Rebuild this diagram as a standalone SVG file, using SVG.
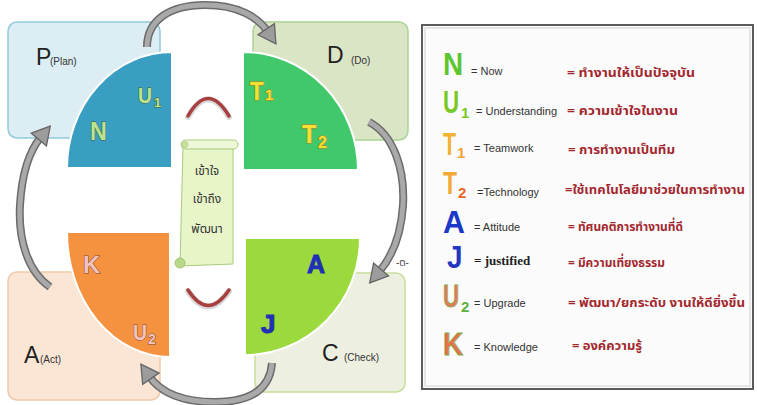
<svg xmlns="http://www.w3.org/2000/svg" width="757" height="405" viewBox="0 0 757 405">
  <style>
    .box-title { font-family: "Liberation Sans", Arial, sans-serif; font-size: 23px; fill: #222; }
    .box-sub { font-family: "Liberation Sans", Arial, sans-serif; font-size: 10px; fill: #333; }
    .q-letter { font-family: "Liberation Sans", Arial, sans-serif; font-weight: bold; stroke-width: 1; paint-order: stroke; }
    .scroll-txt { font-family: "Noto Sans Thai", "Noto Sans", "DejaVu Sans", sans-serif; font-size: 12px; fill: #333; text-anchor: middle; }
    .lg-big { font-family: "Liberation Sans", Arial, sans-serif; font-weight: bold; font-size: 31px; }
    .lg-sub { font-family: "Liberation Sans", Arial, sans-serif; font-weight: bold; font-size: 15px; }
    .lg-en { font-family: "Liberation Sans", Arial, sans-serif; font-size: 11px; fill: #333; }
    .lg-th { font-family: "Noto Sans Thai", "Noto Sans", "DejaVu Sans", sans-serif; font-size: 13px; font-weight: bold; fill: #a3282e; }
    .arr-under { fill: none; stroke: #6b6b6b; stroke-width: 8; stroke-linecap: butt; }
    .arr-top { fill: none; stroke: #a9a9a9; stroke-width: 5; stroke-linecap: butt; }
    .smile { fill: none; stroke: #a8403f; stroke-width: 3.5; stroke-linecap: round; }
    .smile-sh { fill: none; stroke: #d8d8d8; stroke-width: 6; stroke-linecap: round; }
  </style>
  <defs>
    <marker id="ah" markerUnits="userSpaceOnUse" markerWidth="22" markerHeight="22" viewBox="0 0 18 20" refX="3" refY="10" orient="auto">
      <path d="M0,1 L16,10 L0,19 Z" fill="#9c9c9c" stroke="#666" stroke-width="1.2"/>
    </marker>
  </defs>

  <rect width="757" height="405" fill="#ffffff"/>

  <!-- PDCA boxes -->
  <g id="plan">
    <rect x="8" y="22" width="152" height="116" rx="9" fill="#dcedf4" stroke="#93c8d9" stroke-width="1.5"/>
    <text class="box-title" x="36" y="65">P</text>
    <text class="box-sub" x="50" y="65">(Plan)</text>
  </g>
  <g id="do">
    <rect x="253" y="22" width="155" height="118" rx="9" fill="#dae5c6" stroke="#a9d494" stroke-width="1.5"/>
    <text class="box-title" x="327" y="63">D</text>
    <text class="box-sub" x="351" y="64">(Do)</text>
  </g>
  <g id="act">
    <rect x="8" y="272" width="152" height="128" rx="9" fill="#fbe6d5" stroke="#efcaa9" stroke-width="1.5"/>
    <text class="box-title" x="24" y="363">A</text>
    <text class="box-sub" x="40" y="363">(Act)</text>
  </g>
  <g id="check">
    <rect x="255" y="273" width="150" height="119" rx="9" fill="#edf0e1" stroke="#c7de9c" stroke-width="1.5"/>
    <text class="box-title" x="322" y="361">C</text>
    <text class="box-sub" x="344" y="361">(Check)</text>
  </g>

  <!-- connectors: curved cycle arrows -->
  <g id="connectors">
    <path class="arr-under" d="M147,47 C147,20 170,5 205,5 C238,5 258,17 268,32"/>
    <path class="arr-top" d="M147,47 C147,20 170,5 205,5 C238,5 258,17 268,32" marker-end="url(#ah)"/>
    <path class="arr-under" d="M369,122 C394,135 405,170 403,205 C401,238 391,258 379,272"/>
    <path class="arr-top" d="M369,122 C394,135 405,170 403,205 C401,238 391,258 379,272" marker-end="url(#ah)"/>
    <path class="arr-under" d="M272,363 C270,390 250,402 215,402 C182,402 160,392 149,376"/>
    <path class="arr-top" d="M272,363 C270,390 250,402 215,402 C182,402 160,392 149,376" marker-end="url(#ah)"/>
    <path class="arr-under" d="M50,287 C28,272 18,240 20,205 C22,172 30,150 41,137"/>
    <path class="arr-top" d="M50,287 C28,272 18,240 20,205 C22,172 30,150 41,137" marker-end="url(#ah)"/>
  </g>

  <!-- quarter segments -->
  <g id="q-nu">
    <path d="M172,52 A105,116 0 0 0 67,168 L172,168 Z" fill="#3a9ec3" stroke="#ffffff" stroke-width="2"/>
    <text class="q-letter" transform="translate(138,103) scale(0.88,1)" font-size="22" fill="#b9e58c" stroke="#4d5a2c">U</text>
    <text class="q-letter" x="154" y="107" font-size="13" fill="#b9e58c" stroke="#4d5a2c">1</text>
    <text class="q-letter" transform="translate(90,140) scale(0.9,1)" font-size="26" fill="#b9e58c" stroke="#4d5a2c">N</text>
  </g>
  <g id="q-tt">
    <path d="M243,52 A115,118 0 0 1 358,170 L243,170 Z" fill="#40c86a" stroke="#ffffff" stroke-width="2"/>
    <text class="q-letter" transform="translate(250,100) scale(0.86,1)" font-size="26" fill="#f5e034" stroke="#c27a12">T</text>
    <text class="q-letter" x="265" y="100" font-size="15" fill="#f5e034" stroke="#c27a12">1</text>
    <text class="q-letter" transform="translate(302,143) scale(0.9,1)" font-size="26" fill="#f5e034" stroke="#c27a12">T</text>
    <text class="q-letter" x="318" y="148" font-size="16" fill="#f5e034" stroke="#c27a12">2</text>
  </g>
  <g id="q-ku">
    <path d="M67,232 A103,125 0 0 0 170,357 L170,232 Z" fill="#f5923f" stroke="#ffffff" stroke-width="2"/>
    <text class="q-letter" transform="translate(83,273) scale(0.98,1)" font-size="24" fill="#f3c3bf" stroke="#7a4a3a">K</text>
    <text class="q-letter" transform="translate(133,340) scale(0.88,1)" font-size="22" fill="#f3c3bf" stroke="#7a4a3a">U</text>
    <text class="q-letter" x="148" y="344" font-size="14" fill="#f3c3bf" stroke="#7a4a3a">2</text>
  </g>
  <g id="q-aj">
    <path d="M360,238 A115,117 0 0 1 245,355 L245,238 Z" fill="#9cd93c" stroke="#ffffff" stroke-width="2"/>
    <text class="q-letter" transform="translate(307,273) scale(0.96,1)" font-size="26" fill="#1f2fb6" stroke="#1f2fb6" stroke-width="0.5">A</text>
    <text class="q-letter" x="261" y="333" font-size="26" fill="#1f2fb6" stroke="#1f2fb6" stroke-width="0.5">J</text>
  </g>

  <!-- centre arcs -->
  <g id="arc-top">
    <path class="smile-sh" d="M188,117 Q208,82 229,117"/>
    <path class="smile" d="M188,116 Q208,81 229,116"/>
  </g>
  <g id="arc-bottom">
    <path class="smile-sh" d="M188,291 Q208,322 229,291"/>
    <path class="smile" d="M188,290 Q208,321 229,290"/>
  </g>

  <!-- centre scroll -->
  <g id="scroll">
    <path d="M183,146 L233,146 L233,264 L180,266 Z" fill="#e7f5c8" stroke="#a9ca7c" stroke-width="1"/>
    <rect x="181" y="140" width="57" height="9" rx="4.5" fill="#eef8d8" stroke="#a9ca7c" stroke-width="1"/>
    <circle cx="185" cy="144.5" r="3" fill="#c9e2a0" stroke="#a9ca7c" stroke-width="0.8"/>
    <circle cx="180" cy="263" r="5" fill="#b8d98a" stroke="#93b865" stroke-width="0.8"/>
    <text class="scroll-txt" x="207" y="175">เข้าใจ</text>
    <text class="scroll-txt" x="207" y="203">เข้าถึง</text>
    <text class="scroll-txt" x="207" y="233">พัฒนา</text>
  </g>

  <text x="396" y="266" font-family="'Noto Sans Thai', 'DejaVu Sans', sans-serif" font-size="10" fill="#444">-ต-</text>

  <!-- legend -->
  <g id="legend">
    <rect x="422" y="25" width="331" height="364" fill="#fbfbfb" stroke="#5c5c5c" stroke-width="2"/>
    <rect x="425" y="28" width="325" height="358" fill="none" stroke="#d0d0d0" stroke-width="1"/>

    <text class="lg-big" transform="translate(443,75) scale(0.9,1)" fill="#5cc631">N</text>
    <text class="lg-en" x="471" y="75">= Now</text>
    <text class="lg-th" x="567" y="77" textLength="128" lengthAdjust="spacingAndGlyphs">= ทำงานให้เป็นปัจจุบัน</text>

    <text class="lg-big" transform="translate(443,113) scale(0.72,1)" fill="#79c924">U</text>
    <text class="lg-sub" x="461" y="118" fill="#79c924">1</text>
    <text class="lg-en" x="476" y="115">= Understanding</text>
    <text class="lg-th" x="567" y="115" textLength="111" lengthAdjust="spacingAndGlyphs">= ความเข้าใจในงาน</text>

    <text class="lg-big" transform="translate(443,155) scale(0.69,1)" fill="#f2b234">T</text>
    <text class="lg-sub" x="457" y="158" fill="#f2a234">1</text>
    <text class="lg-en" x="474" y="152">= Teamwork</text>
    <text class="lg-th" x="568" y="154" textLength="107" lengthAdjust="spacingAndGlyphs">= การทำงานเป็นทีม</text>

    <text class="lg-big" transform="translate(443,194) scale(0.74,1)" fill="#f2aa34">T</text>
    <text class="lg-sub" x="458" y="198" fill="#e8682a">2</text>
    <text class="lg-en" x="477" y="196" font-size="12">=Technology</text>
    <text class="lg-th" x="565" y="194" textLength="180" lengthAdjust="spacingAndGlyphs">=ใช้เทคโนโลยีมาช่วยในการทำงาน</text>

    <text class="lg-big" transform="translate(443,233) scale(0.98,1)" fill="#1c38c8">A</text>
    <text class="lg-en" x="474" y="231">= Attitude</text>
    <text class="lg-th" x="568" y="231" textLength="115" lengthAdjust="spacingAndGlyphs">= ทัศนคติการทำงานที่ดี</text>

    <text class="lg-big" transform="translate(447,268) scale(0.9,1)" fill="#2436bf">J</text>
    <text x="474" y="265" font-family="'Liberation Serif', 'Times New Roman', serif" font-size="13" font-weight="bold" fill="#222">= justified</text>
    <text class="lg-th" x="568" y="267" textLength="97" lengthAdjust="spacingAndGlyphs">= มีความเที่ยงธรรม</text>

    <text class="lg-big" transform="translate(443,307) scale(0.72,1)" fill="#e37b5c" stroke="#7fae4a" stroke-width="0.8">U</text>
    <text class="lg-sub" x="461" y="312" fill="#5fb041">2</text>
    <text class="lg-en" x="474" y="307">= Upgrade</text>
    <text class="lg-th" x="568" y="307" textLength="177" lengthAdjust="spacingAndGlyphs">= พัฒนา/ยกระดับ งานให้ดียิ่งขึ้น</text>

    <text class="lg-big" transform="translate(443,355) scale(0.9,1)" fill="#e9704c" stroke="#7fae4a" stroke-width="0.8">K</text>
    <text class="lg-en" x="474" y="351">= Knowledge</text>
    <text class="lg-th" x="572" y="350" textLength="70" lengthAdjust="spacingAndGlyphs">= องค์ความรู้</text>
  </g>
</svg>
